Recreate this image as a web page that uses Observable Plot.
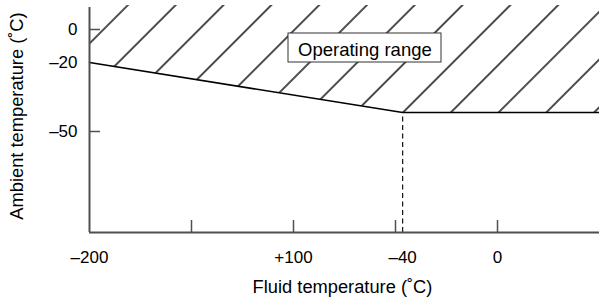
<!DOCTYPE html>
<html>
<head>
<meta charset="utf-8">
<script src="https://cdn.jsdelivr.net/npm/d3@7"></script>
<script src="https://cdn.jsdelivr.net/npm/@observablehq/plot@0.6"></script>
<style>
  html, body { margin: 0; padding: 0; background: #fff; }
  svg { display: block; }
</style>
</head>
<body>
<div id="chart"></div>
<script>
// Schematic chart: positions are in schematic units
const xTickPos = [1, 2, 3, 4];
const xLabelPos = [0, 2, 3.07, 4];
const xLabels = ["\u2013200", "+100", "\u201340", "0"];
const yTickPos = [203, 101];
const yLabelPos = [203, 170, 101];
const yLabels = ["0", "\u201320", "\u201350"];
const boundaryX = [0, 3.07, 5];
const boundaryY = [170, 120, 120];
const rangeTop = 227;
const axisTop = 225;
const breakX = 3.07;
const breakY = 120;
const boxLabel = ["Operating range"];
const boxX = [1.951, 3.451];
const boxY = [170, 199];
const labelAt = [2.70, 182.5];

const boundary = boundaryX.map((x, i) => ({x, y: boundaryY[i]}));
const font = "'Liberation Sans', Arial, Helvetica, sans-serif";
const axisColor = "#505050";
const xTickLen = 12; // in y units (≈ px)

const plot = Plot.plot({
  width: 599,
  height: 304,
  marginLeft: 89,
  marginRight: 0,
  marginTop: 5,
  marginBottom: 72,
  style: {fontFamily: font, background: "#fff", color: "#111"},
  x: {domain: [0, 5], axis: null},
  y: {domain: [0, rangeTop], axis: null},
  marks: [
    Plot.areaY(boundary, {x: "x", y1: "y", y2: rangeTop, fill: "url(#hatch)", curve: "linear"}),
    Plot.line(boundary, {x: "x", y: "y", stroke: "#000", strokeWidth: 1.6}),
    Plot.ruleX([breakX], {y1: 0, y2: breakY, stroke: "#111", strokeWidth: 1.2, strokeDasharray: "5,3.5"}),
    Plot.rect([0], {x1: boxX[0], x2: boxX[1], y1: boxY[0], y2: boxY[1], fill: "#fff", stroke: "#333", strokeWidth: 1}),
    Plot.text(boxLabel, {x: labelAt[0], y: labelAt[1], text: d => d, fontSize: 18.5, fill: "#000", lineAnchor: "middle"}),
    // axes
    Plot.ruleX([0], {y1: 0, y2: axisTop, stroke: axisColor, strokeWidth: 2}),
    Plot.ruleY([0], {x1: 0, x2: 5, stroke: axisColor, strokeWidth: 2}),
    Plot.ruleY(yTickPos, {y: d => d, insetRight: 510 - 11, stroke: axisColor, strokeWidth: 1.5}),
    Plot.ruleX(xTickPos, {x: d => d, y1: 0, y2: xTickLen, stroke: axisColor, strokeWidth: 1.5}),
    Plot.text(yLabels, {x: 0, y: (d, i) => yLabelPos[i], text: d => d, textAnchor: "end", dx: -12, fontSize: 17, fill: "#000", lineAnchor: "middle"}),
    Plot.text(xLabels, {x: (d, i) => xLabelPos[i], y: 0, text: d => d, dy: 30, fontSize: 17, fill: "#000", lineAnchor: "bottom"}),
    Plot.text(["Fluid temperature (\u02DAC)"], {frameAnchor: "bottom", textAnchor: "middle", dx: -2, dy: 60, fontSize: 18.3, fill: "#000", lineAnchor: "bottom"}),
    Plot.text(["Ambient temperature (\u02DAC)"], {frameAnchor: "left", textAnchor: "middle", rotate: -90, dx: -72, dy: -3, fontSize: 18.3, fill: "#000", lineAnchor: "middle"})
  ]
});

const svg = d3.select(plot);
const defs = svg.insert("defs", ":first-child");
const w = 33.8;
const pat = defs.append("pattern")
  .attr("id", "hatch")
  .attr("patternUnits", "userSpaceOnUse")
  .attr("width", w)
  .attr("height", w)
  .attr("patternTransform", "translate(13.5,0) rotate(45)");
pat.append("line")
  .attr("x1", w / 2).attr("x2", w / 2)
  .attr("y1", -2).attr("y2", w + 2)
  .attr("stroke", "#000")
  .attr("stroke-width", 1.4);

document.getElementById("chart").appendChild(plot);
</script>
</body>
</html>
